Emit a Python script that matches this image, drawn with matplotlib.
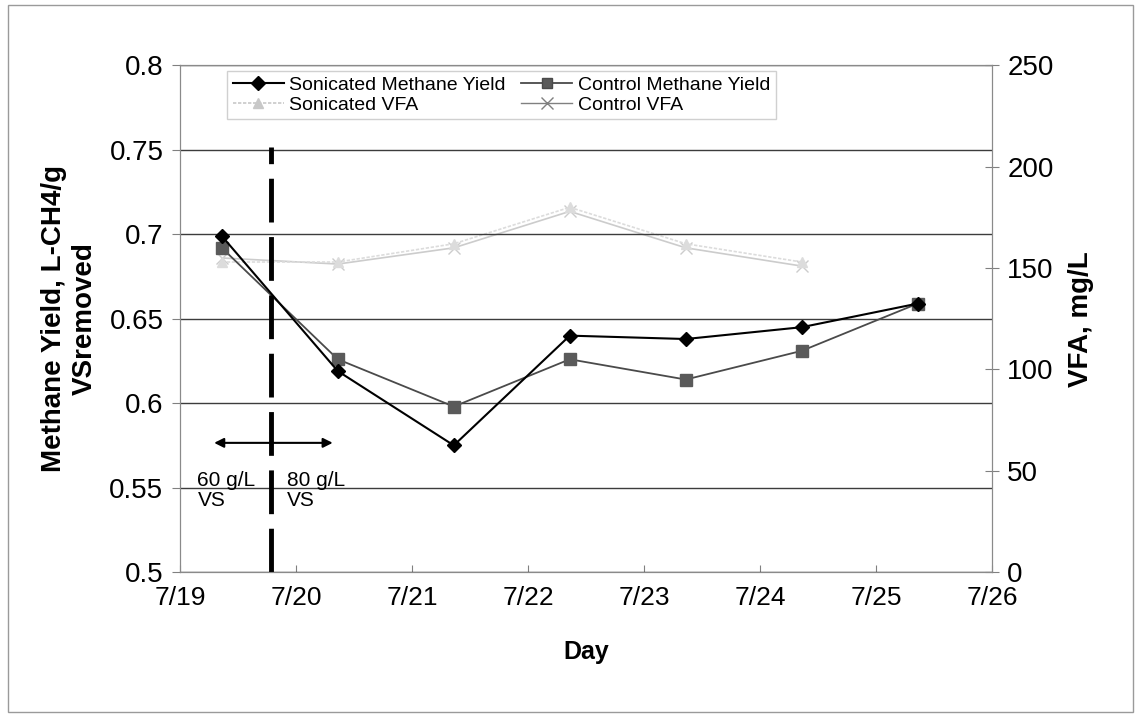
import matplotlib.pyplot as plt
from matplotlib.patches import Rectangle
from matplotlib.lines import Line2D

# sampling days (day of July)
days = [19.36, 20.36, 21.36, 22.36, 23.36, 24.36, 25.36]
vfa_days = days[:6]

# methane yield, L-CH4/g VS removed
son_methane = [0.699, 0.619, 0.575, 0.640, 0.638, 0.645, 0.659]
ctl_methane = [0.692, 0.626, 0.598, 0.626, 0.614, 0.631, 0.659]

# VFA, mg/L
son_vfa = [153, 153, 162, 180, 162, 153]
ctl_vfa = [155, 152, 160, 178, 160, 151]

tick_days = [19, 20, 21, 22, 23, 24, 25, 26]
tick_labels = ["7/%d" % d for d in tick_days]

plt.rcParams['font.family'] = ['Liberation Sans', 'DejaVu Sans']

fig = plt.figure(figsize=(11.41, 7.18), dpi=100)
fig.patches.append(Rectangle((0.007, 0.008), 0.986, 0.985, transform=fig.transFigure,
                             fill=False, edgecolor="#9a9a9a", linewidth=1))

ax = fig.add_axes([0.1578, 0.2033, 0.7116, 0.7055])
ax.set_xlim(19, 26)
ax.set_ylim(0.5, 0.8)
ax.set_yticks([0.5, 0.55, 0.6, 0.65, 0.7, 0.75, 0.8])
ax.set_yticklabels(["0.5", "0.55", "0.6", "0.65", "0.7", "0.75", "0.8"])
ax.set_xticks(tick_days)
ax.set_xticklabels(tick_labels)
ax.tick_params(axis="y", labelsize=20, direction="out", length=6, color="#808080", pad=6)
ax.tick_params(axis="x", labelsize=19, direction="in", length=5, color="#808080", pad=10)
ax.grid(axis="y", color="#3c3c3c", linewidth=1)
for s in ax.spines.values():
    s.set_color("#8a8a8a")

ax2 = ax.twinx()
ax2.set_ylim(0, 250)
ax2.set_yticks([0, 50, 100, 150, 200, 250])
ax2.tick_params(axis="y", labelsize=20, direction="inout", length=10, color="#808080", pad=6)
for s in ax2.spines.values():
    s.set_color("#8a8a8a")

# VFA lines (right axis)
ax2.plot(vfa_days, ctl_vfa, color="#cccccc", marker="x", markersize=8, linewidth=1.2, zorder=2)
ax2.plot(vfa_days, son_vfa, color="#dcdcdc", marker="^", markersize=7, linewidth=1.2,
         linestyle=(0, (2, 1)), zorder=2)

# methane lines drawn on top
ax.set_zorder(ax2.get_zorder() + 1)
ax.patch.set_visible(False)
ax2.set_facecolor("#ababab")
ax.plot(days, ctl_methane, color="#4a4a4a", marker="s", markersize=8, linewidth=1.3,
        markerfacecolor="#5a5a5a", markeredgecolor="#5a5a5a")
ax.plot(days, son_methane, color="black", marker="D", markersize=7, linewidth=1.5)

# loading change annotation
ax.plot([19.785, 19.785], [0.5, 0.752], color="black", linewidth=3.5, linestyle=(0, (9, 3)))
ax.annotate("", xy=(19.27, 0.5765), xytext=(20.34, 0.5765),
            arrowprops=dict(arrowstyle="<|-|>", color="black", lw=1.5, mutation_scale=14))
ax.text(19.15, 0.5485, "60 g/L\nVS", fontsize=15, va="center", ha="left", linespacing=1.05)
ax.text(19.92, 0.5485, "80 g/L\nVS", fontsize=15, va="center", ha="left", linespacing=1.05)

ax.set_xlabel("Day", fontsize=18, fontweight="bold", labelpad=22)
ax.set_ylabel("Methane Yield, L-CH4/g\nVSremoved", fontsize=20, fontweight="bold",
              labelpad=8, linespacing=1.25)
ax2.set_ylabel("VFA, mg/L", fontsize=20, fontweight="bold", labelpad=10)

handles = [
    Line2D([], [], color="black", marker="D", markersize=7, linewidth=1.5),
    Line2D([], [], color="#c8c8c8", marker="^", markersize=7, linewidth=1.2, linestyle=(0, (2, 1))),
    Line2D([], [], color="#4a4a4a", marker="s", markersize=7, linewidth=1.3, markerfacecolor="#5a5a5a"),
    Line2D([], [], color="#808080", marker="x", markersize=8, linewidth=1.0),
]
labels = ["Sonicated Methane Yield", "Sonicated VFA", "Control Methane Yield", "Control VFA"]
leg = ax.legend(handles, labels, ncol=2, loc="upper left", bbox_to_anchor=(0.058, 0.99),
                fontsize=14, frameon=True, fancybox=False, framealpha=1, borderpad=0.3,
                handlelength=2.6, handletextpad=0.3, columnspacing=0.8, labelspacing=0.1,
                borderaxespad=0)
leg.get_frame().set_edgecolor("#d0d0d0")
leg.get_frame().set_linewidth(1)

fig.savefig("out.png", dpi=100)
